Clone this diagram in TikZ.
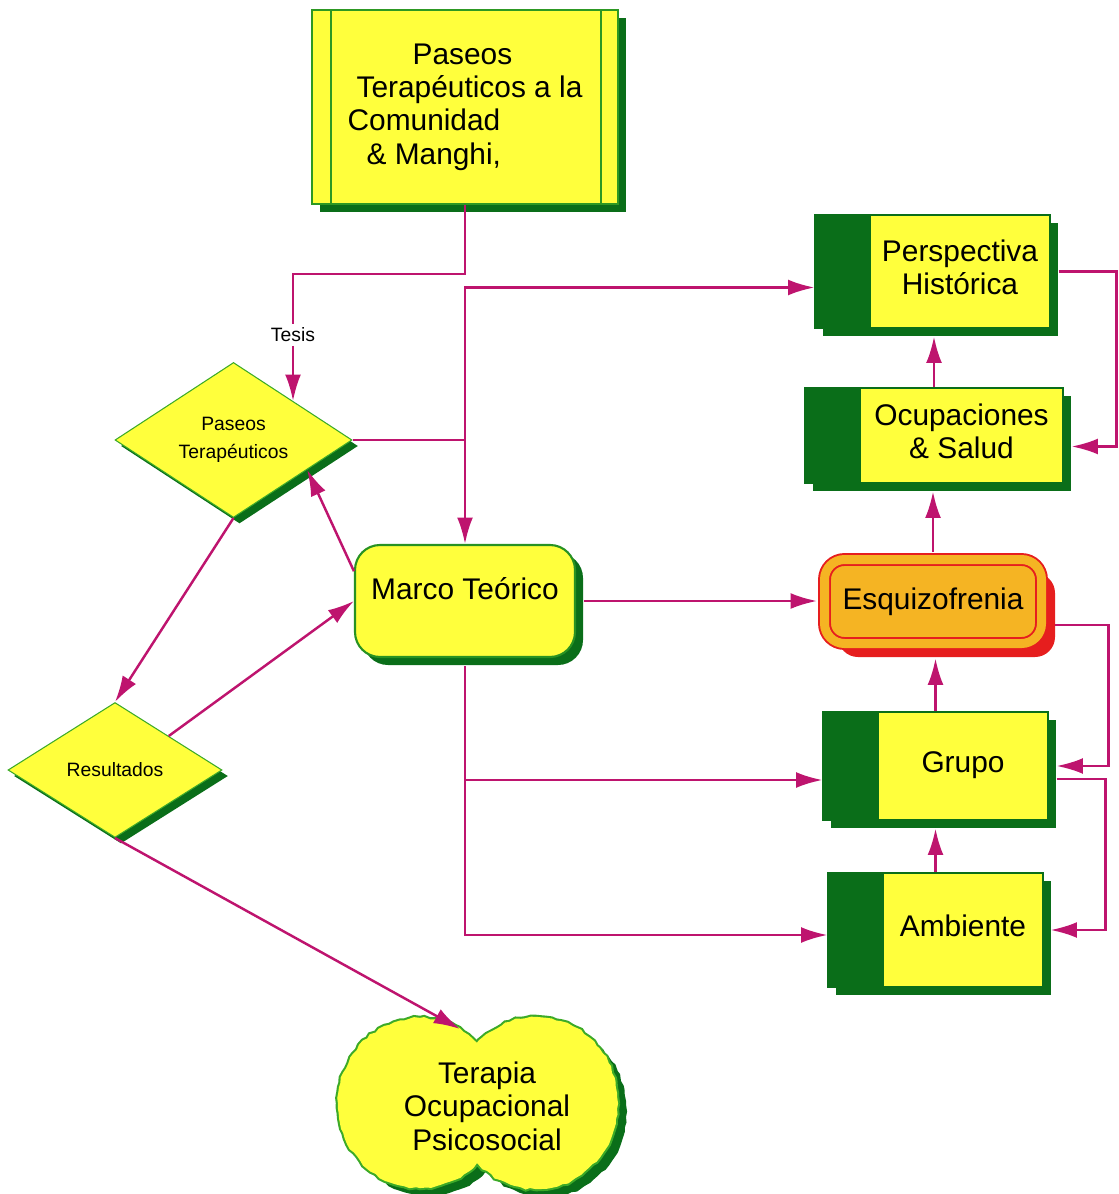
\documentclass[tikz,border=0pt]{standalone}
\usepackage{fontspec}
\setmainfont{Liberation Sans}
\usepackage{tikz}
\usetikzlibrary{positioning}
\usetikzlibrary{shapes.geometric}
\usetikzlibrary{shadows}
\usetikzlibrary{arrows.meta}
\usetikzlibrary{decorations.pathmorphing}

\definecolor{yfill}{RGB}{255,255,60}
\definecolor{dkgreen}{RGB}{10,110,25}
\definecolor{ltgreen}{RGB}{60,170,40}
\definecolor{linkc}{RGB}{190,20,110}
\definecolor{esqfill}{RGB}{245,180,35}
\definecolor{esqred}{RGB}{230,30,30}

\newcommand{\instrip}[1]{\hspace*{11mm}\begin{tabular}{@{}c@{}}#1\end{tabular}}
\newcommand{\lobes}[2]{(#1) ellipse [x radius=16.4mm,y radius=17mm] (#2) ellipse [x radius=16.4mm,y radius=17.2mm]}

\begin{document}
\begin{tikzpicture}
    [
    x=0.2mm, y=-0.2mm,
    big/.style={font=\fontsize{17}{19}\selectfont},
    small/.style={font=\fontsize{11}{16}\selectfont},
    gshadow/.style={drop shadow={shadow xshift=1.6mm,shadow yshift=-1.6mm,fill=dkgreen,opacity=1}},
    procbox/.style={rectangle,draw=ltgreen!70!dkgreen,line width=0.9pt,fill=yfill,gshadow,big,align=left,
      path picture={\draw [ltgreen!70!dkgreen,line width=1pt]
        ([xshift=3.8mm]path picture bounding box.north west) -- ([xshift=3.8mm]path picture bounding box.south west)
        ([xshift=-3.4mm]path picture bounding box.north east) -- ([xshift=-3.4mm]path picture bounding box.south east);}},
    stripbox/.style={rectangle,draw=dkgreen,line width=0.6pt,fill=yfill,gshadow,big,inner sep=0pt,
      path picture={\fill [dkgreen] (path picture bounding box.north west) rectangle ([xshift=11.2mm]path picture bounding box.south west);}},
    roundbox/.style={rectangle,rounded corners=5mm,draw=ltgreen!60!dkgreen,line width=1.2pt,fill=yfill,gshadow,big},
    esqbox/.style={rectangle,rounded corners=4mm,draw=esqred,line width=1.1pt,double=esqfill,double distance=1.8mm,fill=esqfill,big,
      drop shadow={shadow xshift=2.7mm,shadow yshift=-2.7mm,fill=esqred,opacity=1}},
    decision/.style={diamond,draw=ltgreen,line width=0.6pt,fill=yfill,inner sep=0pt,small,align=center,
      drop shadow={shadow xshift=1.2mm,shadow yshift=-1.2mm,fill=dkgreen,opacity=1}},
    rough/.style={decorate,decoration={random steps,segment length=3pt,amplitude=0.6pt}},
    tag/.style={small,inner sep=2pt},
    line/.style={draw=linkc,line width=1.4pt},
    link/.style={line,-{Latex[length=15pt,width=9pt]}},
    ]
    \useasboundingbox (0,0) rectangle (1119,1194);

    \node (top) at (465,107) [procbox,minimum width=61.2mm,minimum height=38.8mm]
      {\hspace*{13mm}Paseos\\\hspace*{1.8mm}Terapéuticos a la\\Comunidad\\\hspace*{3.8mm}\& Manghi,};
    \node (persp) at (932.5,271.5) [stripbox,minimum width=47mm,minimum height=22.6mm] {\instrip{Perspectiva\\Histórica}};
    \node (ocup) at (934,435.5) [stripbox,minimum width=51.6mm,minimum height=19mm] {\instrip{Ocupaciones\\\& Salud}};
    \node (esq) at (933,601.5) [esqbox,minimum width=43.4mm,minimum height=16.8mm] {Esquizofrenia};
    \node (grupo) at (935.5,766) [stripbox,minimum width=45mm,minimum height=21.6mm] {\instrip{Grupo}};
    \node (amb) at (935.5,930) [stripbox,minimum width=43mm,minimum height=22.8mm] {\instrip{Ambiente}};
    \node (marco) at (465,601) [roundbox,minimum width=44mm,minimum height=22.4mm,text depth=5mm] {Marco Teórico};
    \node (d1) at (233.5,440) [decision,minimum width=47.4mm,minimum height=27.2mm] {Paseos\\Terapéuticos};
    \node (d2) at (115,770) [decision,minimum width=42.8mm,minimum height=27mm] {Resultados};
    \node (tesis) [tag,above=1.1cm of d1.north east] {Tesis};

    \coordinate (lobe1) at (420,1103);
    \coordinate (lobe2) at (536,1103);
    \coordinate (lobe1s) at (429,1111);
    \coordinate (lobe2s) at (545,1111);
    \pgfmathsetseed{7}
    \fill [dkgreen,rough] \lobes{lobe1s}{lobe2s};
    \pgfmathsetseed{7}
    \draw [ltgreen,line width=2.4pt,rough] \lobes{lobe1}{lobe2};
    \pgfmathsetseed{7}
    \fill [yfill,rough] \lobes{lobe1}{lobe2};
    \node (tops) at (487,1106) [big,align=center] {Terapia\\Ocupacional\\Psicosocial};
    \coordinate (cl-in) at (460,1029);

    \draw [line] (top.south) -- ++(0,69) -| (tesis.north);
    \draw [link] (tesis.south) to (d1.north east);
    \coordinate (j1) at (d1.east -| marco.north);
    \draw [line] (d1.east) to (j1);
    \draw [link] (j1) |- ([yshift=-3.2mm]persp.west);
    \draw [link] (j1) to (marco.north);
    \draw [link] (marco.165) to (d1.-22);
    \draw [link] (d1.south) to (d2.north);
    \draw [link] (d2.north east) to (marco.west);
    \draw [link] (d2.south) to (cl-in);
    \draw [link,shorten <=1.6mm,shorten >=1.3mm] (marco.east) to (marco.east -| esq.west);

    \coordinate (g-in) at ([yshift=-2.8mm]grupo.west);
    \coordinate (a-in) at ([yshift=-1mm]amb.west);
    \draw [link,shorten <=1.6mm] (marco.south) |- (a-in);
    \draw [link] (g-in -| marco.south) to (g-in);

    \draw [link,shorten >=1.6mm] (ocup.north) to (ocup.north |- persp.south);
    \draw [link,shorten <=1.3mm,shorten >=1.6mm] (esq.north) to (esq.north |- ocup.south);
    \draw [link,shorten >=2.8mm] (grupo.north) to (grupo.north |- esq.south);
    \draw [link,shorten >=1.6mm] (amb.north) to (amb.north |- grupo.south);

    \draw [link,shorten <=1.6mm,shorten >=1.6mm] (persp.east) -- ++(66,0) |- ([yshift=-2.2mm]ocup.east);
    \draw [link,shorten <=2.6mm,shorten >=1.6mm] ([yshift=-4.7mm]esq.east) -- ++(66,0) |- (grupo.east);
    \draw [link,shorten <=1.6mm,shorten >=1.4mm] ([yshift=-2.6mm]grupo.east) -- ++(57,0) |- (amb.east);
  \end{tikzpicture}
\end{document}
